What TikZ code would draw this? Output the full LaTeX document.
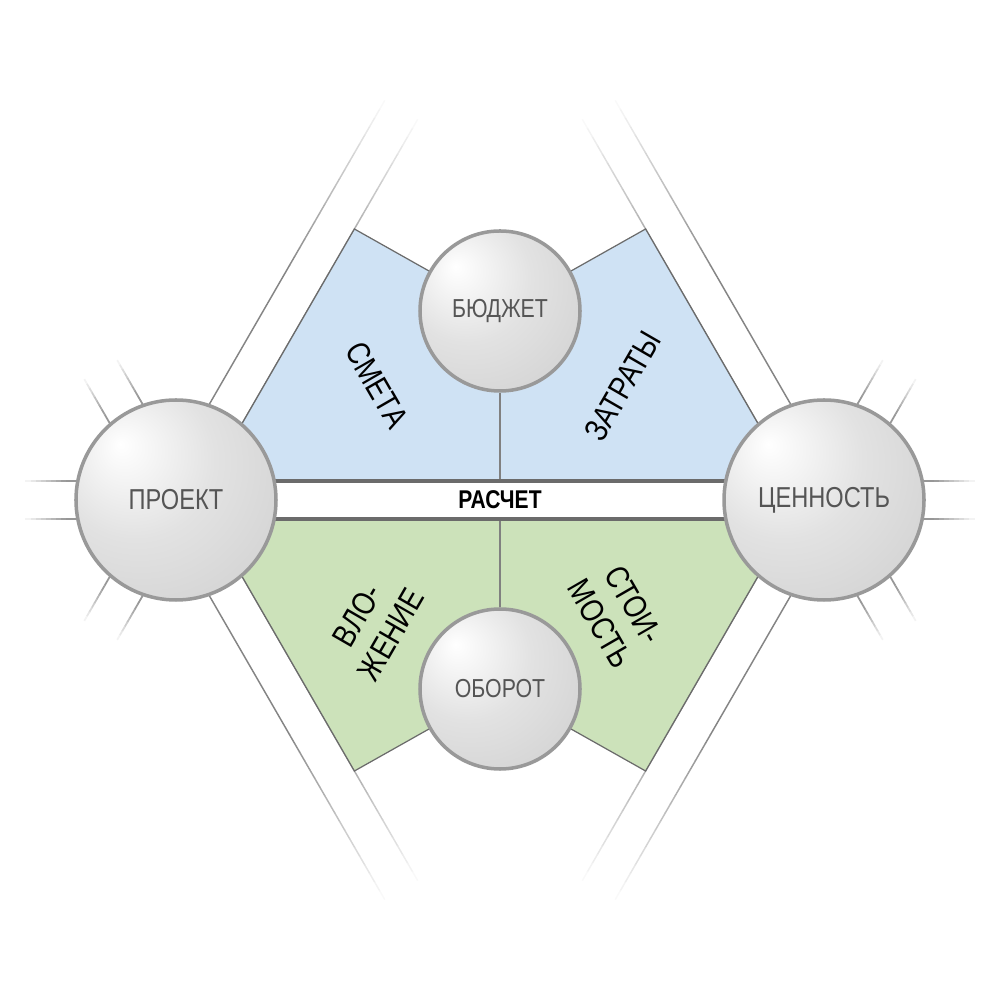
\documentclass[tikz,border=0pt]{standalone}
\usepackage{fontspec}
\setmainfont{Liberation Sans}[FakeStretch=0.82]
\usetikzlibrary{calc}
\definecolor{bluefield}{HTML}{CFE2F4}
\definecolor{greenfield}{HTML}{CCE2BA}
\definecolor{bandgray}{HTML}{6B6B6B}
\definecolor{rimgray}{HTML}{999999}
\definecolor{stripgray}{HTML}{858585}
\definecolor{textgray}{HTML}{555555}
\definecolor{ballmid}{HTML}{E2E2E2}
\definecolor{balledge}{HTML}{CACACA}
\definecolor{balldark}{HTML}{B2B2B2}
\pgfdeclareradialshading{bulb}{\pgfpoint{-14bp}{14bp}}{color(0bp)=(white); color(20bp)=(ballmid); color(50bp)=(balledge); color(72bp)=(balldark)}
\pgfdeclarelayer{background}
\pgfsetlayers{background,main}
\tikzset{
  ball/.style={circle, draw=rimgray, line width=1pt, shade, shading=bulb, text=textgray, inner sep=0pt},
  bigball/.style={ball, minimum size=2cm, font=\fontsize{8.2}{9.8}\selectfont},
  smallball/.style={ball, minimum size=1.6cm, font=\fontsize{7.4}{8.8}\selectfont},
  field/.style={draw=bandgray, line width=0.35pt},
  band/.style={draw=bandgray, line width=1.15pt},
  divider/.style={draw=gray, line width=0.3pt},
  stripline/.style={line width=0.42pt},
  stubline/.style={line width=0.5pt},
  fieldlabel/.style={font=\fontsize{9.3}{11}\selectfont, align=center}
}

\begin{document}
\begin{tikzpicture}
  \useasboundingbox (-5,-5) rectangle (5,5);
  \node[bigball] (proekt) at (-3.24,0) {ПРОЕКТ};
  \node[bigball] (tsennost) at (3.24,0) {ЦЕННОСТЬ};
  \node[smallball] (budget) at (0,1.89) {БЮДЖЕТ};
  \node[smallball] (oborot) at (0,-1.89) {ОБОРОТ};
  \node[font=\bfseries\fontsize{7.3}{8.8}\selectfont] (raschet) at (0,0) {РАСЧЕТ};
  \node[fieldlabel, rotate=-60] (smeta) at (-1.23,1.15) {СМЕТА};
  \node[fieldlabel, rotate=60] (zatraty) at (1.23,1.14) {ЗАТРАТЫ};
  \node[fieldlabel, rotate=60] (vlozhenie) at (-1.26,-1.25) {ВЛО-\\ЖЕНИЕ};
  \node[fieldlabel, rotate=-60] (stoimost) at (1.17,-1.14) {СТОИ-\\МОСТЬ};

  \begin{pgfonlayer}{background}
    % long strips
    \foreach \nd/\ang in {proekt/60, proekt/-60, tsennost/120, tsennost/-120} {
      \begin{scope}[shift={(\nd)}, rotate=\ang]
        \foreach \off in {-0.19, 0.19} {
          \draw[stripline, stripgray] (0,\off) -- (2.5,\off);
          \foreach \i [evaluate=\i as \k using 100-5*\i] in {0,...,19}
            \draw[stripline, draw=stripgray!\k] (2.5+0.1*\i,\off) -- ++(0.105,0);
        }
      \end{scope}
    }
    % short stubs
    \foreach \nd/\ang in {proekt/120, proekt/180, proekt/240, tsennost/0, tsennost/60, tsennost/-60} {
      \begin{scope}[shift={(\nd)}, rotate=\ang]
        \foreach \off in {-0.19, 0.19} {
          \draw[stubline, stripgray!85] (0.9,\off) -- (1.1,\off);
          \foreach \i [evaluate=\i as \k using 80-10*\i] in {0,...,7}
            \draw[stubline, draw=stripgray!\k] (1.1+0.05*\i,\off) -- ++(0.055,0);
        }
      \end{scope}
    }
    \filldraw[field, fill=bluefield] (-1.456,2.71) -- (budget.center) -- (1.456,2.71) -- (2.911,0.19) -- (-2.911,0.19) -- cycle;
    \filldraw[field, fill=greenfield] (-1.456,-2.71) -- (oborot.center) -- (1.456,-2.71) -- (2.911,-0.19) -- (-2.911,-0.19) -- cycle;
    \draw[divider] (budget) -- (0,0.19);
    \draw[divider] (oborot) -- (0,-0.19);
    \draw[band] ([yshift=1.9mm]proekt.center) -- ([yshift=1.9mm]tsennost.center);
    \draw[band] ([yshift=-1.9mm]proekt.center) -- ([yshift=-1.9mm]tsennost.center);
  \end{pgfonlayer}
\end{tikzpicture}
\end{document}
